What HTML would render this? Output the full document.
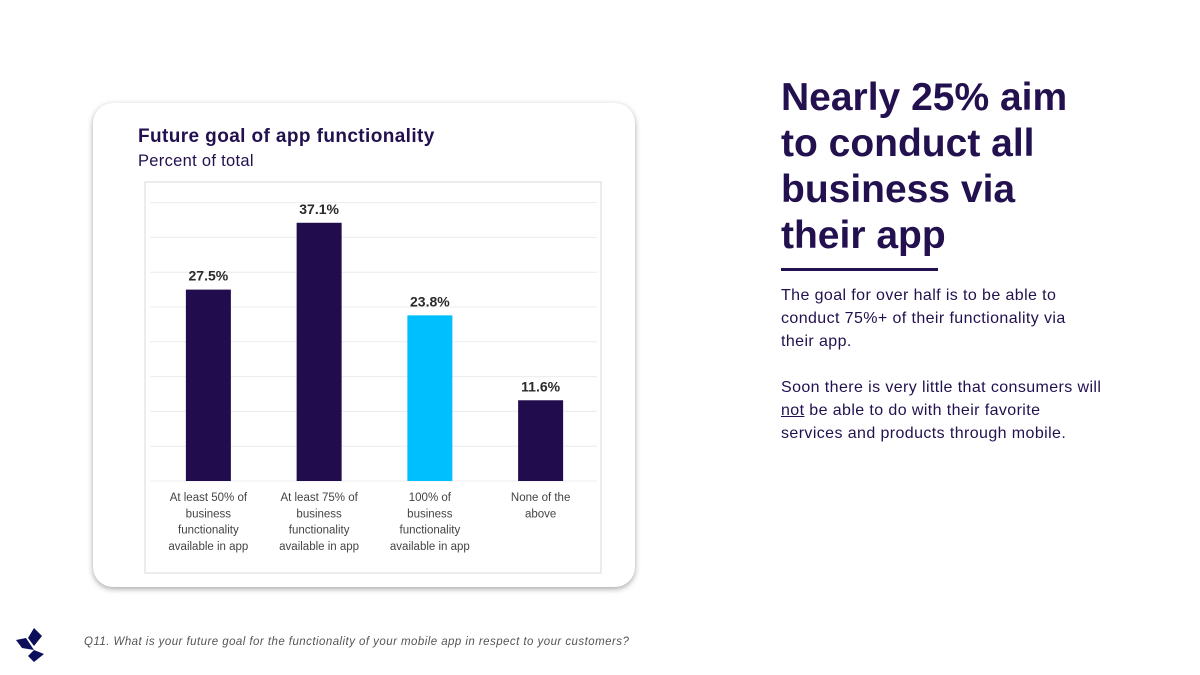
<!DOCTYPE html>
<html><head><meta charset="utf-8"><style>
body{margin:0;width:1200px;height:675px;background:#fff;font-family:"Liberation Sans",sans-serif;position:relative;overflow:hidden;color:#1f0c4a}
.card{position:absolute;left:93px;top:103px;width:542px;height:484px;border-radius:20px;background:#fff;box-shadow:0 2px 6px rgba(0,0,0,.35)}
.ct{position:absolute;left:138px;top:126px;font-size:19px;font-weight:bold;color:#22104f;letter-spacing:0.4px}
.cs{position:absolute;left:138px;top:152px;font-size:16.5px;color:#22104f;letter-spacing:0.3px}
.head{position:absolute;left:781px;top:75px;font-size:39px;font-weight:bold;line-height:46px;color:#22104f}
.rule{position:absolute;left:781px;top:268px;width:157px;height:3px;background:#22104f}
.body{position:absolute;left:781px;top:284px;white-space:nowrap;font-size:16px;line-height:23px;color:#22104f;letter-spacing:0.4px}
.foot{position:absolute;left:84px;top:636px;font-size:11.5px;font-style:italic;color:#555;letter-spacing:0.45px}
</style></head><body>
<div class="card"></div>
<div class="ct">Future goal of app functionality</div>
<div class="cs">Percent of total</div>
<svg id="chart" style="position:absolute;left:0;top:0" width="1200" height="675"></svg>
<div class="head">Nearly 25% aim<br>to conduct all<br>business via<br>their app</div>
<div class="rule"></div>
<div class="body">The goal for over half is to be able to<br>conduct 75%+ of their functionality via<br>their app.<br><br>Soon there is very little that consumers will<br><u>not</u> be able to do with their favorite<br>services and products through mobile.</div>
<svg style="position:absolute;left:14px;top:628px" width="34" height="36" viewBox="0 0 34 36">
<polygon points="20,0 28,8 20,18 14,10" fill="#0d0f5a"/><polygon points="2,12 12,10 20,22 8,20" fill="#0d0f5a"/><polygon points="20,22 30,26 20,34 14,28" fill="#0d0f5a"/></svg>
<div class="foot">Q11. What is your future goal for the functionality of your mobile app in respect to your customers?</div>
<script>
const categories=[["At least 50% of","business","functionality","available in app"],["At least 75% of","business","functionality","available in app"],["100% of","business","functionality","available in app"],["None of the","above"]];
const values=[27.5,37.1,23.8,11.6];
const labels=["27.5%","37.1%","23.8%","11.6%"];
const colors=["#210d4d","#210d4d","#00bfff","#210d4d"];
const gridTicks=[0,5,10,15,20,25,30,35,40];
const svg=document.getElementById('chart');const NS="http://www.w3.org/2000/svg";
const base=481,ppu=6.96,x0=153,step=110.75,bw=45;
const y=v=>base-v*ppu;const xc=i=>x0+step*(i+0.5);
function mk(t,a){const e=document.createElementNS(NS,t);for(const k in a)e.setAttribute(k,a[k]);svg.appendChild(e);return e;}
const fr=mk('rect',{x:145,y:182,width:456,height:391,fill:'none',stroke:'#d8d8d8'});


gridTicks.forEach(t=>{const l=mk('line',{x1:150,x2:597,y1:y(t),y2:y(t),stroke:'#ececec'});

});
values.forEach((v,i)=>{
const r=mk('rect',{x:xc(i)-bw/2,y:y(v),width:bw,height:v*ppu,fill:colors[i]});


const t=mk('text',{x:xc(i),y:y(v)-9,'text-anchor':'middle','font-size':14,'font-weight':'bold',fill:'#2a2a2a'});t.textContent=labels[i];


categories[i].forEach((s,j)=>{const c=mk('text',{x:xc(i),y:501+j*16.3,'text-anchor':'middle','font-size':11.5,fill:'#444'});c.textContent=s;

});
});
</script>
</body></html>
